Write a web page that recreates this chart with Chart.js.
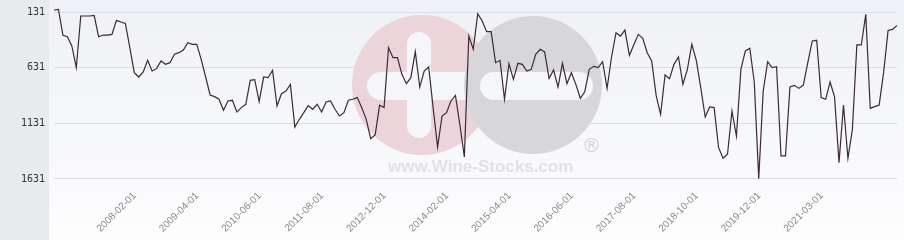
<!DOCTYPE html>
<html>
<head>
<meta charset="utf-8">
<script src="https://cdn.jsdelivr.net/npm/chart.js@4.4.1/dist/chart.umd.min.js"></script>
<style>
    html, body { margin: 0; padding: 0; background: #ffffff; }
    #wrap { position: relative; width: 904px; height: 240px; }
</style>
</head>
<body>
<div id="wrap"><canvas id="grafico" width="904" height="240"></canvas></div>
<script>

// ===========================
// Dados (rank mensal)
// ===========================
const rankValues = [
    113, 107, 341, 353, 436, 631, 167, 167, 167, 161,
    353, 338, 338, 332, 206, 221, 233, 451, 676, 715,
    670, 565, 661, 640, 571, 601, 586, 511, 496, 472,
    406, 421, 421, 556, 715, 876, 891, 915, 1014, 930,
    924, 1029, 990, 960, 745, 739, 936, 715, 721, 655,
    975, 865, 841, 781, 1164, 1095, 1035, 972, 1005, 960,
    1029, 939, 930, 1005, 1065, 1035, 924, 915, 900, 990,
    1095, 1269, 1236, 969, 990, 451, 541, 541, 691, 775,
    721, 487, 805, 661, 625, 990, 1344, 1065, 1035, 930,
    880, 1146, 1433, 347, 466, 146, 212, 308, 308, 586,
    565, 915, 595, 736, 592, 601, 661, 646, 511, 466,
    490, 727, 652, 805, 592, 775, 676, 781, 906, 847,
    646, 619, 631, 577, 817, 535, 317, 347, 293, 520,
    425, 332, 368, 497, 571, 880, 1050, 697, 730, 601,
    535, 781, 646, 421, 565, 811, 1074, 984, 990, 1350,
    1445, 1409, 1020, 1245, 646, 481, 457, 760, 1628, 841,
    577, 631, 622, 1424, 1424, 805, 790, 817, 787, 586,
    391, 385, 900, 915, 760, 894, 1484, 966, 1445, 1185,
    427, 427, 152, 996, 981, 966, 676, 296, 287, 251
];

const tickPositions = [19, 33, 47, 61, 75, 89, 103, 117, 131, 145, 159, 173];
const tickLabels = [
    '2008-02-01', '2009-04-01', '2010-06-01', '2011-08-01',
    '2012-12-01', '2014-02-01', '2015-04-01', '2016-06-01',
    '2017-08-01', '2018-10-01', '2019-12-01', '2021-03-01'
];
const yTicks = [131, 631, 1131, 1631];

// ===========================
// Fundo + marca d'agua
// ===========================
function barra(ctx, x, y, w, h) {
    ctx.beginPath();
    ctx.roundRect(x, y, w, h, Math.min(w, h) / 2);
    ctx.fill();
}

const fundoPlugin = {
    id: 'fundo',
    beforeDraw(chart) {
        const ctx = chart.ctx;
        ctx.save();
        const g = ctx.createLinearGradient(0, 0, 0, chart.height);
        g.addColorStop(0, '#eff1f6');
        g.addColorStop(1, '#fdfdfe');
        ctx.fillStyle = g;
        ctx.fillRect(0, 0, chart.width, chart.height);
        ctx.fillStyle = '#e8ebee';
        ctx.fillRect(0, 0, 49, chart.height);
        ctx.restore();
    },
    beforeDatasetsDraw(chart) {
        const ctx = chart.ctx;
        ctx.save();
        // circulo rosa
        ctx.fillStyle = '#ecd4db';
        ctx.beginPath();
        ctx.arc(422, 85, 70, 0, Math.PI * 2);
        ctx.fill();
        ctx.fillStyle = '#f5f6f9';
        barra(ctx, 407, 32, 24, 106);
        barra(ctx, 367, 72, 110, 28);
        // circulo cinza
        ctx.fillStyle = '#d7d7da';
        ctx.beginPath();
        ctx.arc(533, 85, 69, 0, Math.PI * 2);
        ctx.fill();
        ctx.fillStyle = '#f5f6f9';
        barra(ctx, 480, 72, 113, 28);
        // texto
        ctx.fillStyle = '#e2e2e5';
        ctx.font = 'bold 17px "Liberation Sans", Arial, sans-serif';
        ctx.textBaseline = 'alphabetic';
        ctx.fillText('www.Wine-Stocks.com', 388, 172);
        ctx.fillStyle = '#d4d4d7';
        ctx.font = '19px "DejaVu Sans", sans-serif';
        ctx.fillText('®', 582, 152);
        ctx.restore();
    }
};

// ===========================
// Grafico
// ===========================
const ctx = document.getElementById('grafico').getContext('2d');

new Chart(ctx, {
    type: 'line',
    data: {
        labels: rankValues.map((v, i) => i),
        datasets: [{
            data: rankValues,
            borderColor: '#3b2a33',
            borderWidth: 1.2,
            pointRadius: 0,
            tension: 0,
            fill: false
        }]
    },
    options: {
        responsive: false,
        animation: false,
        layout: {
            padding: { top: 5, right: 7, left: 0, bottom: 0 }
        },
        plugins: {
            legend: { display: false },
            tooltip: { enabled: false }
        },
        scales: {
            x: {
                offset: false,
                border: { display: false },
                grid: { display: false },
                afterBuildTicks: (scale) => {
                    scale.ticks = tickPositions.map(v => ({ value: v }));
                },
                afterFit: (scale) => {
                    scale.height = 53;
                    scale.paddingLeft = 0;
                    scale.paddingRight = 0;
                },
                ticks: {
                    autoSkip: false,
                    minRotation: 45,
                    maxRotation: 45,
                    padding: -5,
                    labelOffset: -4,
                    color: '#8a8a8a',
                    font: { family: '"Liberation Sans", Arial, sans-serif', size: 10 },
                    callback: (value) => tickLabels[tickPositions.indexOf(value)]
                }
            },
            y: {
                reverse: true,
                min: 68,
                max: 1703,
                border: { display: false },
                grid: {
                    color: '#dcdde2',
                    lineWidth: 1,
                    drawTicks: false
                },
                afterBuildTicks: (scale) => {
                    scale.ticks = yTicks.map(v => ({ value: v }));
                },
                afterFit: (scale) => {
                    scale.width = 54;
                    scale.paddingTop = 0;
                    scale.paddingBottom = 0;
                },
                ticks: {
                    padding: 9,
                    color: '#333333',
                    font: { family: '"DejaVu Sans Mono", monospace', size: 10 },
                    callback: (value) => String(value)
                }
            }
        }
    },
    plugins: [fundoPlugin]
});

</script>
</body>
</html>
